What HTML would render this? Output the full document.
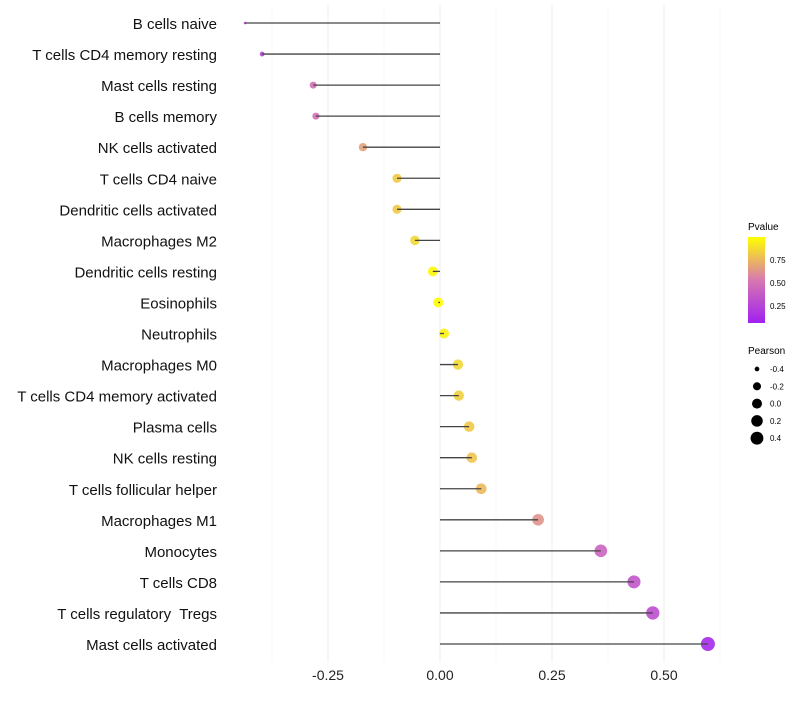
<!DOCTYPE html>
<html><head><meta charset="utf-8"><style>
body{margin:0;background:#fff;font-family:"Liberation Sans",sans-serif;}
svg text{font-family:"Liberation Sans",sans-serif;white-space:pre;}
</style></head><body>
<svg id="chart" width="800" height="700">
<defs><linearGradient id="pg" x1="0" y1="1" x2="0" y2="0">
<stop offset="0" stop-color="#a020f0"/><stop offset="0.5" stop-color="#d878b0"/><stop offset="1" stop-color="#ffff00"/>
</linearGradient></defs>
<g id="grid"></g><g id="points"></g><g id="marks"></g><g id="labels"></g>
<g id="legend">
<text x="748" y="230" font-size="10">Pvalue</text>
<rect x="748" y="237" width="17" height="86" fill="url(#pg)"/>
<text x="770" y="263" font-size="8">0.75</text>
<text x="770" y="286" font-size="8">0.50</text>
<text x="770" y="309" font-size="8">0.25</text>
<text x="748" y="354" font-size="10">Pearson</text>
</g>
</svg>
<script>
const categories=["B cells naive","T cells CD4 memory resting","Mast cells resting","B cells memory","NK cells activated","T cells CD4 naive","Dendritic cells activated","Macrophages M2","Dendritic cells resting","Eosinophils","Neutrophils","Macrophages M0","T cells CD4 memory activated","Plasma cells","NK cells resting","T cells follicular helper","Macrophages M1","Monocytes","T cells CD8","T cells regulatory  Tregs","Mast cells activated"];
const pearson=[-0.435,-0.397,-0.283,-0.277,-0.172,-0.096,-0.096,-0.056,-0.016,-0.004,0.009,0.040,0.042,0.065,0.071,0.092,0.219,0.359,0.433,0.475,0.598];
const pvalue=[0.15,0.2,0.45,0.45,0.65,0.8,0.8,0.85,0.97,0.99,0.95,0.85,0.82,0.8,0.78,0.74,0.6,0.38,0.3,0.25,0.05];
const xTicks=[-0.25,0,0.25,0.5];
const xTickLabels=["-0.25","0.00","0.25","0.50"];
const sizeBreaks=[-0.4,-0.2,0.0,0.2,0.4];
const sizeLabels=["-0.4","-0.2","0.0","0.2","0.4"];
const NS="http://www.w3.org/2000/svg";
const x=v=>440+v*448;
const y=i=>23+i*31.05;
const r=v=>1.3+5.7*Math.sqrt(Math.max(0,(v+0.435)/1.035));
function col(p){
 const a=[160,32,240],m=[216,120,176],b=[255,255,0];let c;
 if(p<0.5){const t=p/0.5;c=a.map((v,k)=>v+(m[k]-v)*t);}else{const t=(p-0.5)/0.5;c=m.map((v,k)=>v+(b[k]-v)*t);}
 return `rgb(${c.map(Math.round).join(',')})`;
}
function mk(tag,attrs,parent){const e=document.createElementNS(NS,tag);for(const k in attrs)e.setAttribute(k,attrs[k]);parent.appendChild(e);return e;}
const grid=document.getElementById('grid'),points=document.getElementById('points'),marks=document.getElementById('marks'),labels=document.getElementById('labels');
for(let v=-0.375;v<=0.625;v+=0.25){const l=mk('line',{x1:x(v),x2:x(v),y1:5,y2:662,stroke:'#f3f3f3','stroke-width':0.6},grid);

}
xTicks.forEach((v,i)=>{const l=mk('line',{x1:x(v),x2:x(v),y1:5,y2:662,stroke:'#ededed','stroke-width':1},grid);


const t=mk('text',{x:x(v),y:680,'font-size':14,'text-anchor':'middle',fill:'#222'},labels);t.textContent=xTickLabels[i];

});
categories.forEach((c,i)=>{
 const t=mk('text',{x:217,y:y(i)+6,'font-size':15,'text-anchor':'end',fill:'#111'},labels);t.textContent=c;
 
 
 const d=mk('circle',{cx:x(pearson[i]),cy:y(i),r:r(pearson[i]),fill:col(pvalue[i]),'fill-opacity':0.9},points);
 
 
 const l=mk('line',{x1:x(0),x2:x(pearson[i]),y1:y(i),y2:y(i),stroke:'#444','stroke-width':1.3},marks);
 
 
});
const leg=document.getElementById('legend');
sizeBreaks.forEach((v,i)=>{const yy=369+i*17.3;
 const c=mk('circle',{cx:757,cy:yy,r:r(v),fill:'#000'},leg);
 
 
 const t=mk('text',{x:770,y:yy+3,'font-size':8},leg);t.textContent=sizeLabels[i];
 
 });
</script>
</body></html>
